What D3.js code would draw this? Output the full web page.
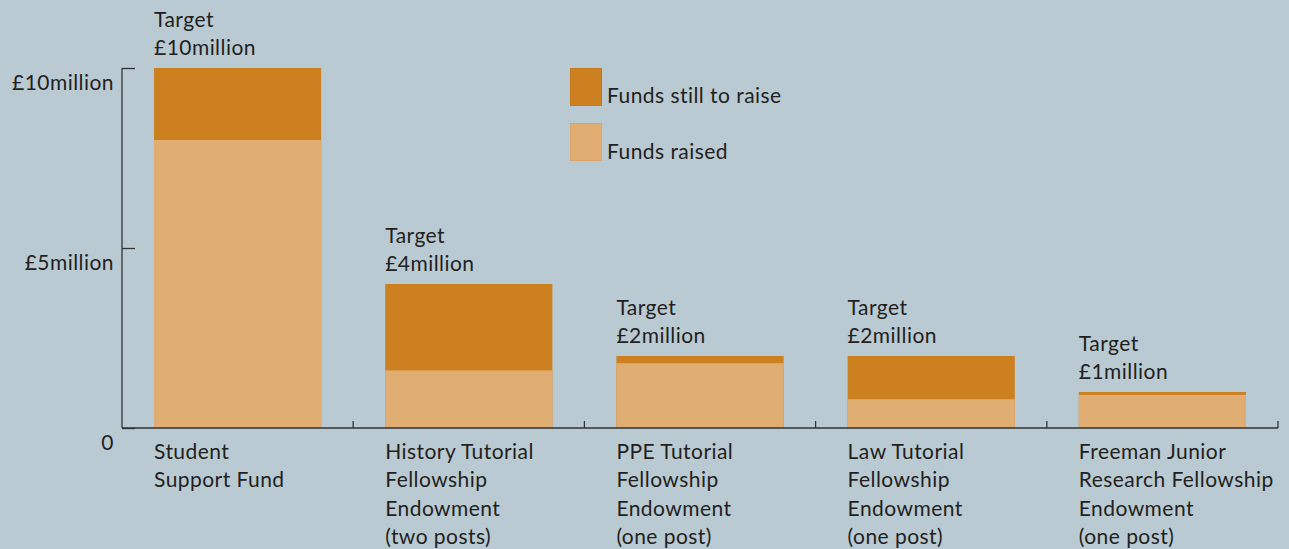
<!DOCTYPE html>
<html>
<head>
<meta charset="utf-8">
<script src="https://cdn.jsdelivr.net/npm/d3@7"></script>
<style>
  body { margin: 0; background: #b9cad3; }
  svg { display: block; }
  text { font-family: "Lato", "Noto Sans", sans-serif; font-size: 21px; letter-spacing: 0.45px; fill: #231f20; }
  .axis path, .axis line { stroke: #333; stroke-width: 1.3px; }
</style>
</head>
<body>
<script>
// values in £ million
const categories = ['Student Support Fund', 'History Tutorial', 'PPE Tutorial', 'Law Tutorial', 'Freeman Junior']
const catLabels = [
    ['Student', 'Support Fund'],
    ['History Tutorial', 'Fellowship', 'Endowment', '(two posts)'],
    ['PPE Tutorial', 'Fellowship', 'Endowment', '(one post)'],
    ['Law Tutorial', 'Fellowship', 'Endowment', '(one post)'],
    ['Freeman Junior', 'Research Fellowship', 'Endowment', '(one post)']
]
const targets = [10, 4, 2, 2, 1]
const raised = [8, 1.6, 1.8, 0.8, 0.92]
const targetLabels = ['£10million', '£4million', '£2million', '£2million', '£1million']
const yTicks = [0, 5, 10]
const yTickLabels = ['0', '£5million', '£10million']

const colStill = '#cc8020', colRaised = '#e0ad73'

let width = 1289, height = 549

let svg = d3.select('body').append('svg')
    .attr('width', width)
    .attr('height', height)

let x = d3.scaleBand().domain(categories).range([122, 1278])
    .paddingInner(0.277).paddingOuter(0.1385)
let y = d3.scaleLinear().domain([0, 10]).range([428, 68])

// funds still to raise (full target), then raised on top
svg.append('g')
    .selectAll('.still')
    .data(categories).enter()
    .append('rect')
    .attr('fill', colStill)
    .attr('x', d => x(d))
    .attr('width', x.bandwidth())
    .attr('y', (d, i) => y(targets[i]))
    .attr('height', (d, i) => y(0) - y(targets[i]))
svg.append('g')
    .selectAll('.raised')
    .data(categories).enter()
    .append('rect')
    .attr('fill', colRaised)
    .attr('x', d => x(d))
    .attr('width', x.bandwidth())
    .attr('y', (d, i) => y(raised[i]))
    .attr('height', (d, i) => y(0) - y(raised[i]))

// y axis
let yAxis = svg.append('g')
    .attr('class', 'axis')
    .attr('transform', 'translate(122,0)')
    .call(d3.axisLeft(y).tickValues(yTicks).tickSize(-13).tickPadding(8)
        .tickFormat((d, i) => yTickLabels[i]))
yAxis.select('.domain').attr('d', 'M0,' + y(10) + 'V' + y(0))
yAxis.selectAll('text')
    .attr('dy', null)
    .attr('y', 21)
    .style('font-size', '21px')
    .attr('fill', '#231f20')
    .attr('font-family', null)

// x axis
let bounds = categories.map(c => x(c) + x.bandwidth() + x.step() * x.paddingInner() / 2)
let xAxis = svg.append('g').attr('class', 'axis')
xAxis.append('line')
    .attr('x1', 122).attr('x2', 1278)
    .attr('y1', y(0)).attr('y2', y(0))
xAxis.selectAll('.tick-x')
    .data(bounds).enter()
    .append('line')
    .attr('x1', d => d).attr('x2', d => d)
    .attr('y1', y(0)).attr('y2', y(0) - 7)

// target labels
categories.map((c, i) => {
    let t = svg.append('text').attr('x', x(c))
    t.append('tspan').attr('x', x(c)).attr('y', y(targets[i]) - 41).text('Target')
    t.append('tspan').attr('x', x(c)).attr('y', y(targets[i]) - 13).text(targetLabels[i])
})

// category labels
catLabels.map((lines, i) => {
    let t = svg.append('text')
    lines.map((l, j) => {
        t.append('tspan').attr('x', x(categories[i])).attr('y', 459 + j * 28.3).text(l)
    })
})

// legend
const legend = [['Funds still to raise', colStill], ['Funds raised', colRaised]]
legend.map((d, i) => {
    svg.append('rect')
        .attr('x', 570.5).attr('y', 68.5 + i * 55)
        .attr('width', 31).attr('height', 37)
        .attr('fill', d[1])
        .attr('stroke', i ? '#d9a36a' : '#c77a1c')
    svg.append('text')
        .attr('x', 607).attr('y', 103 + i * 56)
        .text(d[0])
})
</script>
</body>
</html>
